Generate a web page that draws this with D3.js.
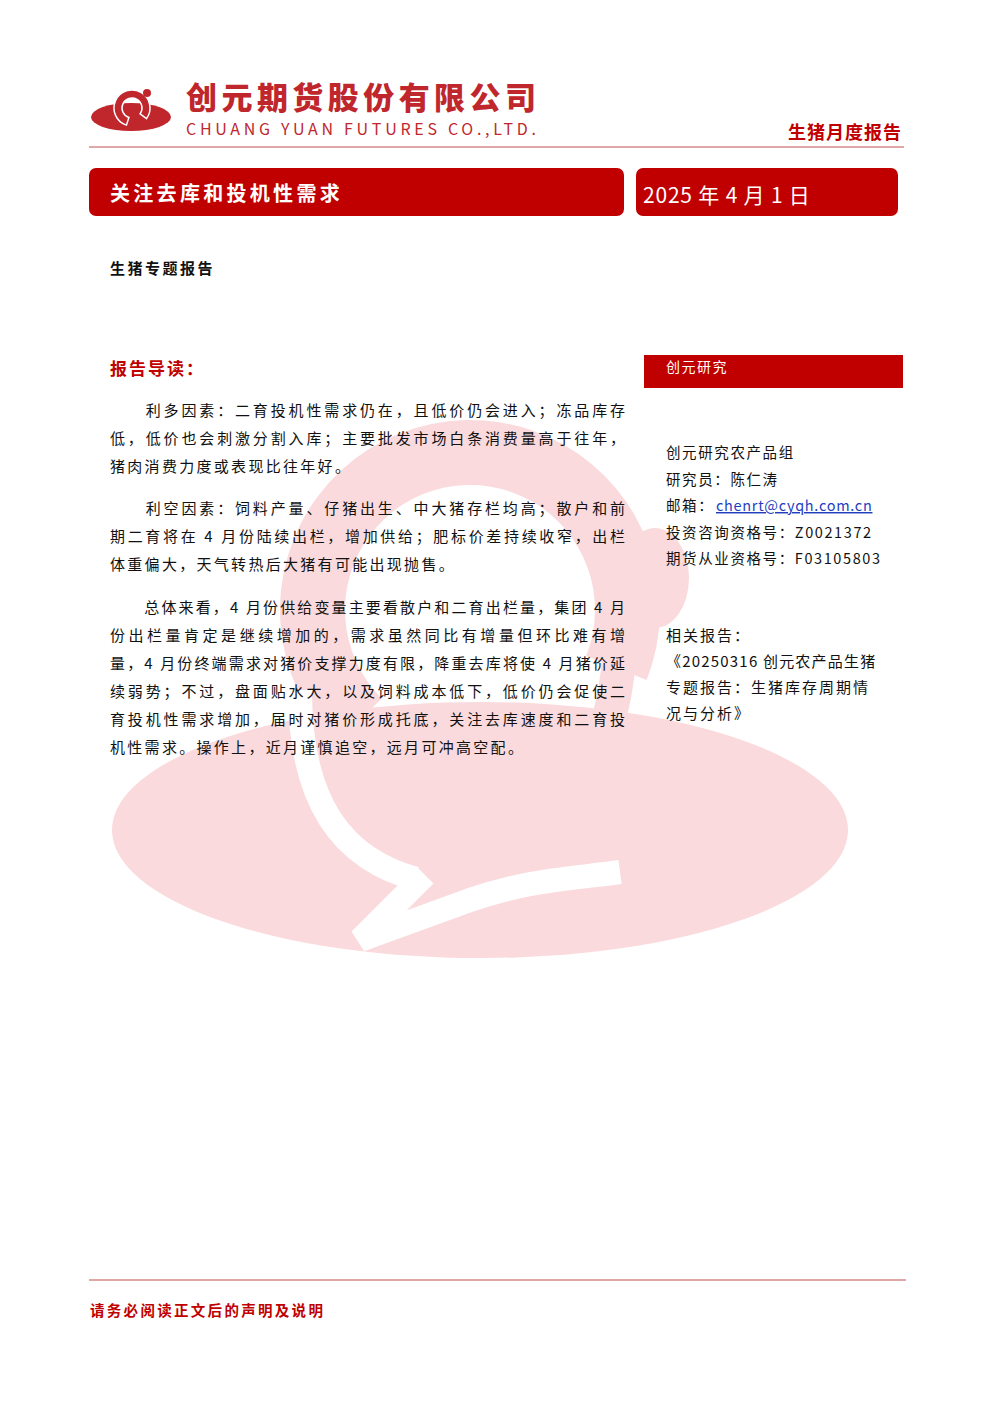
<!DOCTYPE html>
<html><head><meta charset="utf-8">
<script src="https://cdn.jsdelivr.net/npm/d3@7"></script>
<style>body{margin:0;background:#fff}svg{display:block}</style>
</head><body>
<script>
const companyCN = "创元期货股份有限公司";
const companyEN = "CHUANG YUAN FUTURES CO.,LTD.";
const reportType = "生猪月度报告";
const title = "关注去库和投机性需求";
const dateText = "2025 年 4 月 1 日";
const subTitle = "生猪专题报告";
const introHead = "报告导读：";
const para1 = ["　　利多因素：二育投机性需求仍在，且低价仍会进入；冻品库存","低，低价也会刺激分割入库；主要批发市场白条消费量高于往年，","猪肉消费力度或表现比往年好。"];
const para2 = ["　　利空因素：饲料产量、仔猪出生、中大猪存栏均高；散户和前","期二育将在 4 月份陆续出栏，增加供给；肥标价差持续收窄，出栏","体重偏大，天气转热后大猪有可能出现抛售。"];
const para3 = ["　　总体来看，4 月份供给变量主要看散户和二育出栏量，集团 4 月","份出栏量肯定是继续增加的，需求虽然同比有增量但环比难有增","量，4 月份终端需求对猪价支撑力度有限，降重去库将使 4 月猪价延","续弱势；不过，盘面贴水大，以及饲料成本低下，低价仍会促使二","育投机性需求增加，届时对猪价形成托底，关注去库速度和二育投","机性需求。操作上，近月谨慎追空，远月可冲高空配。"];
const sideHead = "创元研究";
const sideInfo = ["创元研究农产品组","研究员：陈仁涛","邮箱：","投资咨询资格号：Z0021372","期货从业资格号：F03105803"];
const email = "chenrt@cyqh.com.cn";
const related = ["相关报告：","《20250316 创元农产品生猪","专题报告：生猪库存周期情","况与分析》"];
const footer = "请务必阅读正文后的声明及说明";

const W=992,H=1403, red="#c00000", font="'Noto Sans CJK SC','Noto Sans',sans-serif";
const svg=d3.select("body").append("svg").attr("width",W).attr("height",H);

// watermark
const pink="#fadadd";
const wm=svg.append("g");
wm.append("ellipse").attr("cx",480).attr("cy",830).attr("rx",368).attr("ry",128).attr("fill",pink);
const arc=d3.arc();
wm.append("path").attr("transform","translate(470,610)")
  .attr("d",arc({innerRadius:125,outerRadius:190,startAngle:-Math.PI*0.75,endAngle:Math.PI*0.62})).attr("fill",pink);
wm.append("path").attr("transform","translate(470,610)")
  .attr("d",arc({innerRadius:60,outerRadius:125,startAngle:-Math.PI*0.05,endAngle:Math.PI*0.25})).attr("fill","none");
wm.append("path").attr("d","M300,690 C300,800 340,860 420,880 L360,940 L470,900 C530,880 560,880 620,872")
  .attr("fill","none").attr("stroke","#fff").attr("stroke-width",24);
wm.append("path").attr("d","M620,600 C625,720 590,800 520,830 C480,845 450,860 430,880")
  .attr("fill","none").attr("stroke",pink).attr("stroke-width",34);
wm.append("ellipse").attr("cx",655).attr("cy",578).attr("rx",34).attr("ry",50).attr("fill",pink);

// logo
const lg=svg.append("g");
lg.append("ellipse").attr("cx",131).attr("cy",117).attr("rx",40).attr("ry",14).attr("fill","#c0272d");
lg.append("path").attr("transform","translate(132,108)")
  .attr("d",arc({innerRadius:10,outerRadius:18,startAngle:-Math.PI*0.9,endAngle:Math.PI*0.7})).attr("fill","#c0272d").attr("stroke","#fff").attr("stroke-width",1.5);
lg.append("circle").attr("cx",147).attr("cy",93).attr("r",4).attr("fill","#c0272d");
svg.append("text").attr("x",186).attr("y",109).attr("font-family",font).attr("font-weight",900).attr("font-size",31)
  .attr("fill","#c0272d").attr("textLength",350).text(companyCN);
svg.append("text").attr("x",186).attr("y",135).attr("font-family",font).attr("font-size",16)
  .attr("fill","#c0272d").attr("textLength",350).text(companyEN);
svg.append("text").attr("x",902).attr("y",139).attr("text-anchor","end").attr("font-family",font).attr("font-weight",700).attr("font-size",18)
  .attr("letter-spacing",1).attr("fill",red).text(reportType);
svg.append("line").attr("x1",89).attr("x2",904).attr("y1",147).attr("y2",147).attr("stroke","#c0504d").attr("stroke-width",1);

// title bars
svg.append("rect").attr("x",89).attr("y",168).attr("width",535).attr("height",48).attr("rx",7).attr("fill",red);
svg.append("rect").attr("x",636).attr("y",168).attr("width",262).attr("height",48).attr("rx",7).attr("fill",red);
svg.append("text").attr("x",110).attr("y",201).attr("font-family",font).attr("font-weight",700).attr("font-size",20).attr("fill","#fff").attr("letter-spacing",3.3).text(title);
svg.append("text").attr("x",643).attr("y",203).attr("font-family",font).attr("font-size",21).attr("fill","#fff").attr("letter-spacing",0.8).text(dateText);

svg.append("text").attr("x",110).attr("y",274).attr("font-family",font).attr("font-weight",700).attr("font-size",15).attr("letter-spacing",2.5).attr("fill","#111").text(subTitle);
svg.append("text").attr("x",110).attr("y",375).attr("font-family",font).attr("font-weight",700).attr("font-size",17).attr("letter-spacing",2).attr("fill",red).text(introHead);

// paragraphs
function para(lines,y0){
  lines.forEach((t,i)=>{
    const full = i<lines.length-1;
    const tx=svg.append("text").attr("x",110).attr("y",y0+i*28).attr("font-family",font).attr("font-size",15).attr("fill","#111").text(t);
    if(full) tx.attr("textLength",515).attr("lengthAdjust","spacing");
    else tx.attr("letter-spacing",2.3);
  });
}
para(para1,416); para(para2,514); para(para3,613);

// sidebar
svg.append("rect").attr("x",644).attr("y",355).attr("width",259).attr("height",33).attr("fill",red);
svg.append("text").attr("x",666).attr("y",372).attr("font-family",font).attr("font-size",14).attr("letter-spacing",1.5).attr("fill","#fff").text(sideHead);
sideInfo.forEach((t,i)=>{
  svg.append("text").attr("x",666).attr("y",458+i*26.5).attr("font-family",font).attr("font-size",14.5).attr("letter-spacing",1.6).attr("fill","#111").text(t);
});
svg.append("text").attr("x",716).attr("y",511).attr("font-family",font).attr("font-size",14.5).attr("letter-spacing",0.7).attr("fill","#1f3fbf").attr("text-decoration","underline").text(email);
related.forEach((t,i)=>{
  svg.append("text").attr("x",666).attr("y",641+i*26).attr("font-family",font).attr("font-size",15).attr("letter-spacing",i===1?1.2:2).attr("fill","#111").text(t);
});

// footer
svg.append("line").attr("x1",89).attr("x2",906).attr("y1",1280).attr("y2",1280).attr("stroke","#c0504d").attr("stroke-width",1.2);
svg.append("text").attr("x",90).attr("y",1316).attr("font-family",font).attr("font-weight",700).attr("font-size",14.5).attr("letter-spacing",2.3).attr("fill",red).text(footer);
</script>
</body></html>
